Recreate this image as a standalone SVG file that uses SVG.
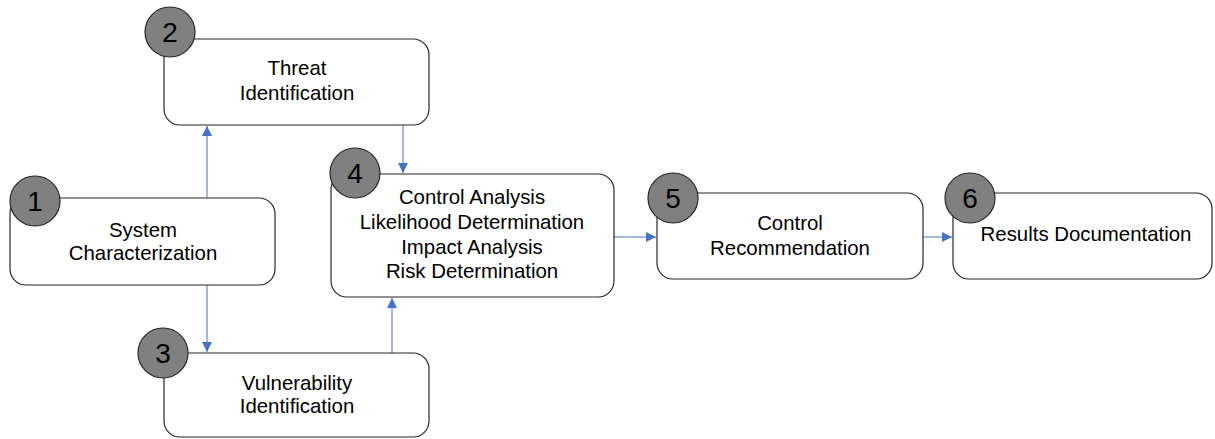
<svg xmlns="http://www.w3.org/2000/svg" width="1215" height="439" viewBox="0 0 1215 439">
<defs>
<style>
.box{fill:#fff;stroke:#262626;stroke-width:1.2}
.num{fill:#808080;stroke:#262626;stroke-width:1.2}
.t{font-family:"Liberation Sans",Arial,sans-serif;font-size:20.4px;fill:#000;text-anchor:middle}
.n{font-family:"Liberation Sans",Arial,sans-serif;font-size:28px;fill:#000;text-anchor:middle}
.c{fill:none;stroke:#4472C4;stroke-width:1}
</style>
<marker id="ah" viewBox="0 0 10 10" refX="10" refY="5" markerWidth="10" markerHeight="10" markerUnits="userSpaceOnUse" orient="auto">
<path d="M0,0 L10,5 L0,10 z" fill="#4472C4"/>
</marker>
</defs>
<g id="connectors">
<path class="c" d="M207,198 V126" marker-end="url(#ah)"/>
<path class="c" d="M207,285 V352" marker-end="url(#ah)"/>
<path class="c" d="M403,125 V173" marker-end="url(#ah)"/>
<path class="c" d="M392,353 V298" marker-end="url(#ah)"/>
<path class="c" d="M614,237 H656" marker-end="url(#ah)"/>
<path class="c" d="M923,237 H952" marker-end="url(#ah)"/>
</g>
<g id="node1">
<rect class="box" x="10" y="198" width="265" height="87" rx="16"/>
<circle class="num" cx="35" cy="201" r="25"/>
<text class="n" x="35" y="211">1</text>
<text class="t" x="143" y="237">System</text>
<text class="t" x="143" y="260">Characterization</text>
</g>
<g id="node2">
<rect class="box" x="164" y="39" width="265" height="86" rx="16"/>
<circle class="num" cx="170" cy="32" r="25"/>
<text class="n" x="170" y="42">2</text>
<text class="t" x="297" y="75">Threat</text>
<text class="t" x="297" y="100">Identification</text>
</g>
<g id="node3">
<rect class="box" x="164" y="353" width="265" height="84" rx="16"/>
<circle class="num" cx="163" cy="353" r="25"/>
<text class="n" x="163" y="363">3</text>
<text class="t" x="297" y="390">Vulnerability</text>
<text class="t" x="297" y="413">Identification</text>
</g>
<g id="node4">
<rect class="box" x="331" y="174" width="283" height="123" rx="16"/>
<circle class="num" cx="355" cy="173" r="25"/>
<text class="n" x="355" y="183">4</text>
<text class="t" x="472" y="204">Control Analysis</text>
<text class="t" x="472" y="229">Likelihood Determination</text>
<text class="t" x="472" y="254">Impact Analysis</text>
<text class="t" x="472" y="278">Risk Determination</text>
</g>
<g id="node5">
<rect class="box" x="657" y="193" width="266" height="86" rx="16"/>
<circle class="num" cx="673" cy="198" r="25"/>
<text class="n" x="673" y="208">5</text>
<text class="t" x="790" y="230">Control</text>
<text class="t" x="790" y="255">Recommendation</text>
</g>
<g id="node6">
<rect class="box" x="953" y="193" width="259" height="86" rx="16"/>
<circle class="num" cx="970" cy="198" r="25"/>
<text class="n" x="970" y="208">6</text>
<text class="t" x="1086" y="241">Results Documentation</text>
</g>
</svg>
